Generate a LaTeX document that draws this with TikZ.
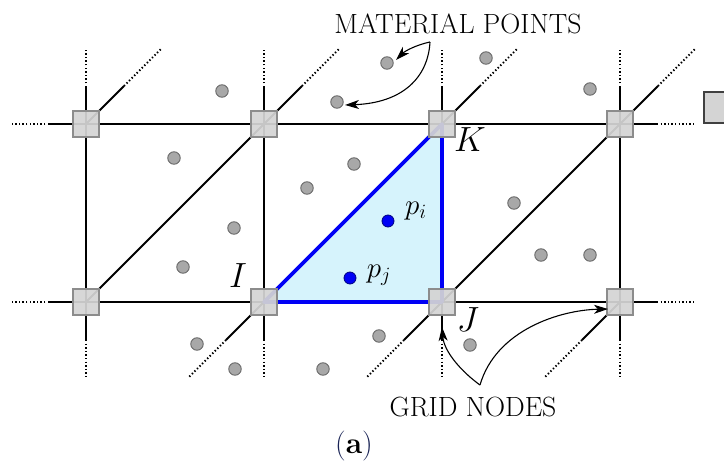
\RequirePackage{fix-cm}
\documentclass[tikz,border=0pt]{standalone}
\usetikzlibrary{arrows.meta}
\definecolor{sqfill}{RGB}{212,212,212}
\definecolor{sqdraw}{RGB}{140,140,140}
\definecolor{ptfill}{RGB}{168,168,168}
\definecolor{ptdraw}{RGB}{105,105,105}
\definecolor{trifill}{RGB}{214,243,252}
\definecolor{triblue}{RGB}{0,0,245}
\definecolor{parcol}{RGB}{25,35,85}
\tikzset{
  gridline/.style={line width=1.8pt,black},
  extdot/.style={line width=1.8pt,black,dash pattern=on 1.4pt off 2.2pt},
  blueedge/.style={line width=3.6pt,triblue,line cap=round,line join=round},
  gridnode/.style={rectangle,draw=sqdraw,fill=sqfill,fill opacity=0.93,draw opacity=1,line width=1.1pt,minimum size=26pt,inner sep=0pt},
  matpt/.style={circle,draw=ptdraw,fill=ptfill,line width=0.9pt,minimum size=12.5pt,inner sep=0pt},
  bluept/.style={circle,draw=blue!50!black,fill=triblue,line width=0.8pt,minimum size=12pt,inner sep=0pt},
  lab/.style={inner sep=0pt,font=\fontsize{27.8}{32}\selectfont},
  mathlab/.style={inner sep=0pt,font=\fontsize{35}{40}\selectfont},
  plab/.style={inner sep=0pt,font=\fontsize{29}{33}\selectfont},
  callout/.style={line width=1.1pt,black,-{Stealth[length=14pt,width=9pt,inset=4pt]}}
}
\begin{document}
\begin{tikzpicture}[x=1pt,y=-1pt]
\useasboundingbox (0,0) rectangle (724,466);
\clip (0,0) rectangle (724,466);
% grid coordinates
\coordinate (A1) at (86,124);  \coordinate (A2) at (264,124);
\coordinate (A3) at (442,124); \coordinate (A4) at (620,124);
\coordinate (B1) at (86,302);  \coordinate (B2) at (264,302);
\coordinate (B3) at (442,302); \coordinate (B4) at (620,302);
% triangle fill
\fill[trifill] (B2) -- (B3) -- (A3) -- cycle;
% interior grid lines
\draw[gridline] (A1) -- (A4);
\draw[gridline] (B1) -- (B4);
\foreach \i in {1,2,3,4} {\draw[gridline] (A\i) -- (B\i);}
\draw[gridline] (B1) -- (A2);
\draw[gridline] (B3) -- (A4);
% extensions (solid then dotted)
\foreach \i in {1,2,3,4} {
  \draw[gridline] (A\i) -- ++(0,-37) coordinate (tv\i);
  \draw[extdot] (tv\i) -- ++(0,-37);
  \draw[gridline] (A\i) -- ++(38,-38) coordinate (td\i);
  \draw[extdot] (td\i) -- ++(38,-38);
  \draw[gridline] (B\i) -- ++(0,38) coordinate (bv\i);
  \draw[extdot] (bv\i) -- ++(0,37);
}
\foreach \i in {2,3,4} {
  \draw[gridline] (B\i) -- ++(-38,38) coordinate (bd\i);
  \draw[extdot] (bd\i) -- ++(-38,38);
}
\draw[gridline] (A1) -- ++(-37,0) coordinate (hl1);
\draw[extdot] (hl1) -- ++(-37,0);
\draw[gridline] (B1) -- ++(-37,0) coordinate (hl2);
\draw[extdot] (hl2) -- ++(-37,0);
\draw[gridline] (A4) -- ++(37,0) coordinate (hr1);
\draw[extdot] (hr1) -- ++(37,0);
\draw[gridline] (B4) -- ++(37,0) coordinate (hr2);
\draw[extdot] (hr2) -- ++(37,0);
% blue triangle edges
\draw[blueedge] (B2) -- (B3) -- (A3) -- cycle;
% grid node squares
\foreach \c in {A1,A2,A3,A4,B1,B2,B3,B4} {\node[gridnode] (n\c) at (\c) {};}
% partial legend square
\node[rectangle,draw=black!75,fill=sqfill,line width=1.5pt,minimum size=31pt,inner sep=0pt] (leg) at (719.5,107.5) {};
% material points
\foreach \x/\y [count=\k] in {222/91,337/102,387/63,486/58,590/89,174/158,354/164,307/188,234/228,183/267,514/203,541/255,590/255,197/344,235/369,323/369,379/336,470/345}
  {\node[matpt] (mp\k) at (\x,\y) {};}
\node[bluept] (pi) at (388,221) {};
\node[bluept] (pj) at (350,278) {};
% labels
\node[plab] (lpi) at (416,211) {$p_i$};
\node[plab] (lpj) at (379,275) {$p_j$};
\node[mathlab] (lK) at (470,140) {$K$};
\node[mathlab] (lI) at (238,276) {$I$};
\node[mathlab] (lJ) at (468,320) {$J$};
\node[lab] (tmp) at (458,24) {MATERIAL POINTS};
\node[lab] (tgn) at (473,407) {GRID NODES};
\node[inner sep=0pt,font=\fontsize{30}{34}\selectfont] (cap) at (354,446) {\textcolor{parcol}{(}\textbf{a}\textcolor{parcol}{)}};
% callout arrows
\coordinate (mo) at (430,42);
\draw[callout] (mo) .. controls (416,45) and (405,51) .. (396,60);
\draw[callout] (mo) .. controls (428,78) and (402,103) .. (345,105);
\coordinate (go) at (480,385);
\draw[callout] (go) .. controls (462,372) and (444,352) .. (442,327);
\draw[callout] (go) .. controls (496,330) and (560,310) .. (608,309);
\end{tikzpicture}
\end{document}
